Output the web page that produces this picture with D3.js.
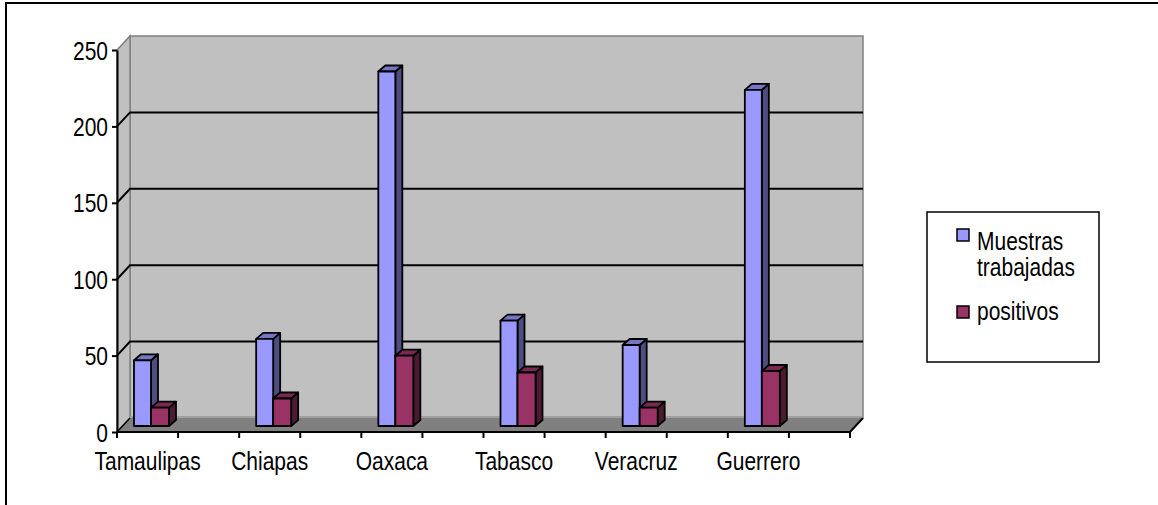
<!DOCTYPE html>
<html>
<head>
<meta charset="utf-8">
<script src="https://cdn.jsdelivr.net/npm/d3@7"></script>
<style>
  body { margin: 0; background: #fff; }
  svg text { font-family: "Liberation Sans", Arial, sans-serif; font-size: 25px; fill: #000; }
</style>
</head>
<body>
<script>
// data
var categories = ["Tamaulipas", "Chiapas", "Oaxaca", "Tabasco", "Veracruz", "Guerrero"];
var muestras = [43, 57, 232, 69, 53, 220];
var positivos = [12, 18, 46, 35, 12, 36];
var yTicks = [0, 50, 100, 150, 200, 250];
var seriesNames = ["Muestras trabajadas", "positivos"];

var svgWidth = 1158, svgHeight = 505;
var sx = 0.84; // text is drawn a bit narrow

var svg = d3.select("body").append("svg").attr("width", svgWidth).attr("height", svgHeight);

// outer frame (runs off the right and bottom)
svg.append("rect")
    .attr("x", 6).attr("y", 3).attr("width", 1300).attr("height", 700)
    .attr("fill", "none").attr("stroke", "#000").attr("stroke-width", 2);

// scales: front plane, back wall and the plane the bars stand on
var x = d3.scaleBand().domain(categories).range([117, 850]);
var yFront = d3.scaleLinear().domain([0, 250]).range([432, 50]);
var yBack = d3.scaleLinear().domain([0, 250]).range([418, 36]);
var yBar = d3.scaleLinear().domain([0, 250]).range([426, 44]);
var depthX = 13, depthY = -14;   // wall depth
var bdx = 7, bdy = -6;           // bar depth

var left = x.range()[0], right = x.range()[1];

// back wall
svg.append("rect")
    .attr("x", left + depthX).attr("y", yBack(250))
    .attr("width", right - left).attr("height", yBack(0) - yBack(250))
    .attr("fill", "#c0c0c0").attr("stroke", "#808080").attr("stroke-width", 1.5);

// side wall
svg.append("path")
    .attr("d", "M" + left + "," + yFront(250) + "L" + (left + depthX) + "," + yBack(250) +
               "L" + (left + depthX) + "," + yBack(0) + "L" + left + "," + yFront(0) + "Z")
    .attr("fill", "#c0c0c0").attr("stroke", "#808080").attr("stroke-width", 1.5);

// gridlines on the back wall + the side wall
var grid = yTicks.filter(function(d) { return d > 0 && d < 250; });
svg.selectAll(".grid").data(grid).enter().append("path")
    .attr("class", "grid")
    .attr("d", function(d) {
      return "M" + left + "," + yFront(d) + "L" + (left + depthX) + "," + yBack(d) +
             "L" + (right + depthX) + "," + yBack(d);
    })
    .attr("fill", "none").attr("stroke", "#000").attr("stroke-width", 2);

// floor
svg.append("path")
    .attr("d", "M" + left + "," + yFront(0) + "L" + (left + depthX) + "," + yBack(0) +
               "L" + (right + depthX) + "," + yBack(0) + "L" + right + "," + yFront(0) + "Z")
    .attr("fill", "#808080").attr("stroke", "none");
svg.append("line")
    .attr("x1", left + depthX).attr("x2", right + depthX)
    .attr("y1", yBack(0) - 1).attr("y2", yBack(0) - 1)
    .attr("stroke", "#a0a0a0").attr("stroke-width", 2);
svg.append("path")
    .attr("d", "M" + left + "," + yFront(0) + "L" + right + "," + yFront(0) +
               "L" + (right + depthX) + "," + yBack(0))
    .attr("fill", "none").attr("stroke", "#000").attr("stroke-width", 2);
svg.append("line")
    .attr("x1", left).attr("x2", left + depthX)
    .attr("y1", yFront(0)).attr("y2", yBack(0))
    .attr("stroke", "#000").attr("stroke-width", 1.5);

// bars
function box(g, x0, w, v, front, top, side) {
  var x1 = x0 + w, yt = yBar(v), yb = yBar(0);
  g.append("path")
      .attr("d", "M" + x1 + "," + yt + "L" + (x1 + bdx) + "," + (yt + bdy) +
                 "L" + (x1 + bdx) + "," + (yb + bdy) + "L" + x1 + "," + yb + "Z")
      .attr("fill", side);
  g.append("path")
      .attr("d", "M" + x0 + "," + yt + "L" + (x0 + bdx) + "," + (yt + bdy) +
                 "L" + (x1 + bdx) + "," + (yt + bdy) + "L" + x1 + "," + yt + "Z")
      .attr("fill", top);
  g.append("rect")
      .attr("x", x0).attr("y", yt).attr("width", w).attr("height", yb - yt)
      .attr("fill", front);
  g.selectAll("path, rect")
      .attr("stroke", "#000").attr("stroke-width", 1.8).attr("stroke-linejoin", "round");
}

categories.forEach(function(c, i) {
  var g = svg.append("g").attr("class", "cat");
  box(g, x(c) + 17, 17, muestras[i], "#9999ff", "#7676c4", "#4d4d80");
  box(g, x(c) + 34, 18, positivos[i], "#993366", "#7a2952", "#4c1a33");
});

// y axis
var yAxis = d3.axisLeft(yFront).tickValues(yTicks).tickSize(5).tickSizeOuter(0);
var yg = svg.append("g").attr("transform", "translate(" + left + ",0)").call(yAxis);
yg.select(".domain").attr("stroke", "#000").attr("stroke-width", 2);
yg.selectAll(".tick line").attr("stroke", "#000").attr("stroke-width", 2);
yg.selectAll(".tick text")
    .attr("font-family", null).attr("font-size", null)
    .attr("x", 0).attr("dy", null).attr("y", 9)
    .attr("transform", "translate(-9,0) scale(" + sx + ",1)");

// category ticks every half band
var half = x.bandwidth() / 2;
var tickXs = [];
categories.forEach(function(c) { tickXs.push(x(c), x(c) + half); });
tickXs.push(right);
svg.selectAll(".xtick").data(tickXs).enter().append("line")
    .attr("x1", function(d) { return d; }).attr("x2", function(d) { return d; })
    .attr("y1", yFront(0)).attr("y2", yFront(0) + 6)
    .attr("stroke", "#000").attr("stroke-width", 2);

// category labels
svg.selectAll(".xlabel").data(categories).enter().append("text")
    .attr("class", "xlabel")
    .attr("text-anchor", "middle")
    .attr("transform", function(d) {
      return "translate(" + (x(d) + half / 2) + ",470) scale(" + sx + ",1)";
    })
    .text(function(d) { return d; });

// legend
var lg = svg.append("g");
lg.append("rect")
    .attr("x", 927).attr("y", 212).attr("width", 172).attr("height", 150)
    .attr("fill", "#fff").attr("stroke", "#000").attr("stroke-width", 1.5);
var legendColors = ["#9999ff", "#993366"];
var swatchY = [229, 306];
lg.selectAll(".sw").data(seriesNames).enter().append("rect")
    .attr("x", 957).attr("y", function(d, i) { return swatchY[i]; })
    .attr("width", 12).attr("height", 12)
    .attr("fill", function(d, i) { return legendColors[i]; })
    .attr("stroke", "#000").attr("stroke-width", 1.5);
var legendLines = [["Muestras", 250], ["trabajadas", 276], ["positivos", 320]];
lg.selectAll(".lt").data(legendLines).enter().append("text")
    .attr("transform", function(d) { return "translate(977," + d[1] + ") scale(" + sx + ",1)"; })
    .text(function(d) { return d[0]; });
</script>
</body>
</html>
